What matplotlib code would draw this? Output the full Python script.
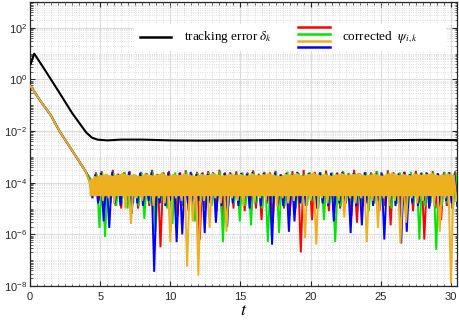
import numpy as np
import matplotlib
matplotlib.use('Agg')
import matplotlib.pyplot as plt
from matplotlib.ticker import FixedLocator, LogLocator, LogFormatterSciNotation, MultipleLocator, NullFormatter
from matplotlib.patches import Rectangle

plt.rcParams['font.family'] = ['Liberation Sans', 'DejaVu Sans']
plt.rcParams['mathtext.fontset'] = 'stix'

# ---------------- data (log10 values) ----------------
black_t = [0, 0.05, 0.3, 1.0, 2.0, 3.0, 4.0, 4.4, 4.8, 5.5, 6.5, 8, 10, 12, 15, 18, 20, 23, 26, 28, 30.4]
black_log = [0.66, 0.6, 1.0, 0.42, -0.43, -1.3, -2.05, -2.25, -2.33, -2.36, -2.33, -2.33, -2.36, -2.37,
             -2.36, -2.35, -2.36, -2.37, -2.35, -2.34, -2.35]

decay_t = [0, 0.1, 0.7, 1.5, 2.1, 3.0, 3.6, 4.0]
decay_log = [-0.25, -0.3, -0.8, -1.4, -2.0, -2.75, -3.25, -3.6]

# noise sampling: peaks at start + 0.4 j, dips at start + 0.2 + 0.4 j
red_start, green_start, blue_start, orange_start = 4.3, 4.35, 4.25, 4.2
# bottom of the dense (solid-looking) orange band
orange_band_floor = -4.5

red_high = [-3.85, -3.6, -3.55, -3.7, -3.5, -3.65, -3.6, -3.55, -3.7, -3.58, -3.62, -3.5, -3.66, -3.6,
            -3.55, -3.7, -3.6, -3.52, -3.64, -3.58, -3.6, -3.55, -3.68, -3.5, -3.6, -3.63, -3.56, -3.7,
            -3.6, -3.52, -3.65, -3.58, -3.6, -3.54, -3.68, -3.6, -3.55, -3.62, -3.5, -3.66, -3.58, -3.6,
            -3.53, -3.7, -3.6, -3.56, -3.62, -3.5, -3.64, -3.58, -3.6, -3.55, -3.66, -3.52, -3.6, -3.63,
            -3.57, -3.68, -3.54, -3.6, -3.62, -3.55, -3.65, -3.58, -3.6, -3.56]
red_low = [-4.4, -4.7, -4.9, -4.6, -4.9, -5.0, -4.8, -4.7, -5.0, -4.8, -4.9, -5.3, -6.5, -4.8, -5.0,
           -5.3, -4.9, -5.1, -4.8, -6.2, -5.0, -4.8, -5.1, -5.45, -4.9, -5.0, -4.8, -5.1, -4.9, -5.0,
           -5.45, -4.8, -5.55, -4.9, -5.0, -5.3, -4.8, -6.7, -4.9, -5.45, -5.0, -4.8, -5.1, -4.9, -5.0,
           -4.8, -5.3, -5.55, -4.9, -5.0, -4.8, -5.1, -4.9, -5.65, -4.8, -5.0, -4.9, -5.1, -4.8, -6.2,
           -4.9, -5.0, -5.45, -4.9, -5.0, -4.8]

green_high = [-3.9, -3.65, -3.6, -3.7, -3.62, -3.68, -3.58, -3.66, -3.7, -3.6, -3.64, -3.57, -3.69,
              -3.62, -3.66, -3.6, -3.7, -3.58, -3.65, -3.62, -3.68, -3.6, -3.64, -3.56, -3.7, -3.62,
              -3.66, -3.6, -3.63, -3.58, -3.68, -3.61, -3.65, -3.6, -3.7, -3.57, -3.64, -3.62, -3.66,
              -3.59, -3.68, -3.62, -3.64, -3.6, -3.7, -3.58, -3.65, -3.62, -3.66, -3.6, -3.63, -3.57,
              -3.69, -3.61, -3.65, -3.6, -3.67, -3.58, -3.64, -3.62, -3.66, -3.6, -3.7, -3.59, -3.64,
              -3.62]
green_low = [-4.5, -5.75, -6.1, -4.8, -4.9, -4.7, -5.0, -4.8, -4.9, -5.4, -4.8, -5.9, -4.7, -5.0, -5.6,
             -4.8, -4.9, -4.7, -5.5, -4.8, -5.0, -4.9, -4.7, -6.3, -4.9, -4.8, -5.5, -4.9, -5.65, -4.8,
             -5.0, -6.3, -4.8, -5.95, -4.9, -4.7, -5.0, -4.8, -4.9, -4.7, -5.0, -5.45, -4.8, -6.3, -4.9,
             -4.7, -5.0, -4.8, -4.9, -5.1, -4.8, -4.9, -4.7, -5.0, -4.8, -4.9, -5.0, -4.8, -6.2, -4.9,
             -4.8, -6.6, -4.9, -4.8, -5.0, -4.9]

blue_high = [-3.95, -3.68, -3.62, -3.7, -3.6, -3.66, -3.64, -3.58, -3.7, -3.62, -3.66, -3.6, -3.68,
             -3.63, -3.6, -3.7, -3.62, -3.65, -3.58, -3.67, -3.62, -3.66, -3.6, -3.7, -3.63, -3.6,
             -3.68, -3.62, -3.65, -3.59, -3.7, -3.62, -3.64, -3.6, -3.68, -3.63, -3.66, -3.58, -3.7,
             -3.62, -3.65, -3.6, -3.67, -3.62, -3.64, -3.59, -3.7, -3.62, -3.66, -3.6, -3.68, -3.63,
             -3.6, -3.7, -3.62, -3.65, -3.59, -3.67, -3.62, -3.64, -3.6, -3.68, -3.63, -3.66, -3.6,
             -3.65]
blue_low = [-4.6, -4.8, -5.5, -5.75, -4.8, -4.9, -4.7, -5.2, -4.8, -4.9, -4.7, -7.45, -4.8, -4.9, -4.7,
            -6.3, -6.0, -4.8, -4.9, -4.7, -5.95, -4.8, -5.55, -4.9, -5.7, -4.8, -4.9, -4.7, -5.0, -4.8,
            -4.9, -4.7, -6.4, -4.8, -4.9, -5.9, -5.5, -4.8, -4.9, -4.7, -5.0, -4.8, -4.9, -5.5, -4.8,
            -4.7, -5.95, -4.9, -5.65, -4.8, -4.9, -4.7, -6.2, -4.8, -4.9, -6.35, -5.9, -4.8, -4.9, -4.7,
            -5.0, -4.8, -4.9, -4.7, -4.8, -4.9]

orange_high = [-3.9, -3.75, -3.7, -3.65, -3.72, -3.68, -3.62, -3.7, -3.66, -3.74, -3.64, -3.7, -3.68,
               -3.6, -3.72, -3.66, -3.7, -3.63, -3.69, -3.73, -3.65, -3.7, -3.62, -3.68, -3.71, -3.64,
               -3.69, -3.66, -3.72, -3.63, -3.7, -3.67, -3.62, -3.69, -3.74, -3.65, -3.68, -3.63,
               -3.71, -3.66, -3.6, -3.7, -3.65, -3.72, -3.67, -3.63, -3.69, -3.66, -3.62, -3.7, -3.68,
               -3.64, -3.72, -3.66, -3.61, -3.69, -3.65, -3.71, -3.63, -3.68, -3.66, -3.62, -3.7,
               -3.67, -3.64, -3.69]
orange_low = [-4.3, -4.5, -4.7, -4.6, -4.8, -4.5, -5.0, -5.6, -4.6, -4.7, -4.5, -4.9, -4.6, -4.8, -6.3,
              -4.6, -4.7, -7.25, -5.5, -7.6, -4.7, -5.75, -4.6, -4.8, -5.9, -4.6, -4.7, -4.9, -4.5,
              -4.8, -4.6, -4.7, -4.5, -4.9, -4.6, -4.8, -4.7, -4.5, -6.15, -4.7, -6.4, -4.6, -4.8, -4.5,
              -4.7, -5.35, -4.6, -4.8, -4.6, -6.3, -4.7, -5.75, -4.6, -4.9, -4.7, -6.35, -5.55, -4.6,
              -4.8, -4.7, -4.5, -4.9, -5.9, -4.6, -7.9, -4.7]

x_ticks = [0, 5, 10, 15, 20, 25, 30]
y_ticks = [1e-8, 1e-6, 1e-4, 1e-2, 1e0, 1e2]

colors = {'red': '#ff0000', 'green': '#00e600', 'blue': '#0000ff', 'orange': '#edb120'}


def build(start, highs, lows):
    n = min(len(highs), len(lows))
    vals = []
    for h, l in zip(highs[:n], lows[:n]):
        vals += [h, l]
    t_noise = start + 0.2 * np.arange(2 * n)
    t = np.concatenate([decay_t, t_noise])
    v = np.concatenate([decay_log, vals])
    return t, 10.0 ** v


fig = plt.figure(figsize=(4.59, 3.22), dpi=100)
ax = fig.add_axes([30 / 459, 36 / 322, 427 / 459, 284 / 322])
ax.set_yscale('log')

series = [('red', red_start, red_high, red_low),
          ('green', green_start, green_high, green_low),
          ('blue', blue_start, blue_high, blue_low),
          ('orange', orange_start, orange_high, orange_low)]
for name, st, hi, lo in series:
    t, y = build(st, hi, lo)
    if name == 'orange':
        th = st + 0.4 * np.arange(len(hi))
        ax.fill_between(th, 10.0 ** np.array(hi), 10.0 ** orange_band_floor,
                        color=colors[name], lw=0, zorder=3)
    ax.plot(t, y, color=colors[name], lw=1.4, solid_joinstyle='miter', zorder=3)

ax.plot(black_t, 10.0 ** np.array(black_log), color='black', lw=1.5, zorder=4)

ax.set_xlim(0, 30.43)
ax.set_ylim(1e-8, 1e3)
ax.xaxis.set_major_locator(FixedLocator(x_ticks))
ax.xaxis.set_minor_locator(MultipleLocator(0.5))
ax.yaxis.set_major_locator(FixedLocator(y_ticks))
ax.yaxis.set_major_formatter(LogFormatterSciNotation())
ax.yaxis.set_minor_locator(LogLocator(base=10, subs=np.arange(1, 10), numticks=50))
ax.yaxis.set_minor_formatter(NullFormatter())

ax.grid(True, which='major', color='#dcdcdc', lw=0.8, ls='-', zorder=0)
ax.grid(True, which='minor', color='#cccccc', lw=0.55, ls=(0, (1, 2)), zorder=0)
ax.set_axisbelow(True)
ax.tick_params(which='both', direction='in', top=True, right=True, colors='#262626',
               labelsize=8, labelcolor='#262626')
ax.tick_params(which='major', length=3.5, width=0.8)
ax.tick_params(axis='y', which='major', pad=2)
ax.tick_params(axis='x', which='major', pad=4)
ax.tick_params(which='minor', length=1.8, width=0.5)
for s in ax.spines.values():
    s.set_color('#262626')
    s.set_linewidth(0.9)

ax.set_xlabel('$t$', fontsize=13, labelpad=0)

# legend (drawn by hand, axes-fraction coordinates)
ax.add_patch(Rectangle((0.2436, 0.8275), 0.73, 0.095, transform=ax.transAxes,
                       facecolor='white', edgecolor='none', zorder=5))
ax.plot([0.258, 0.330], [0.877, 0.877], transform=ax.transAxes, color='black', lw=1.8, zorder=6)
ax.text(0.361, 0.877, r'tracking error $\delta_k$', transform=ax.transAxes, fontsize=9.5,
        family='Liberation Serif', va='center', ha='left', zorder=6)
for name, yy in [('red', 0.912), ('green', 0.888), ('orange', 0.862), ('blue', 0.840)]:
    ax.plot([0.628, 0.703], [yy, yy], transform=ax.transAxes, color=colors[name], lw=1.8, zorder=6)
ax.text(0.731, 0.877, r'corrected  $\psi_{i,k}$', transform=ax.transAxes, fontsize=9.5,
        family='Liberation Serif', va='center', ha='left', zorder=6)

fig.savefig('out.png', dpi=100)
